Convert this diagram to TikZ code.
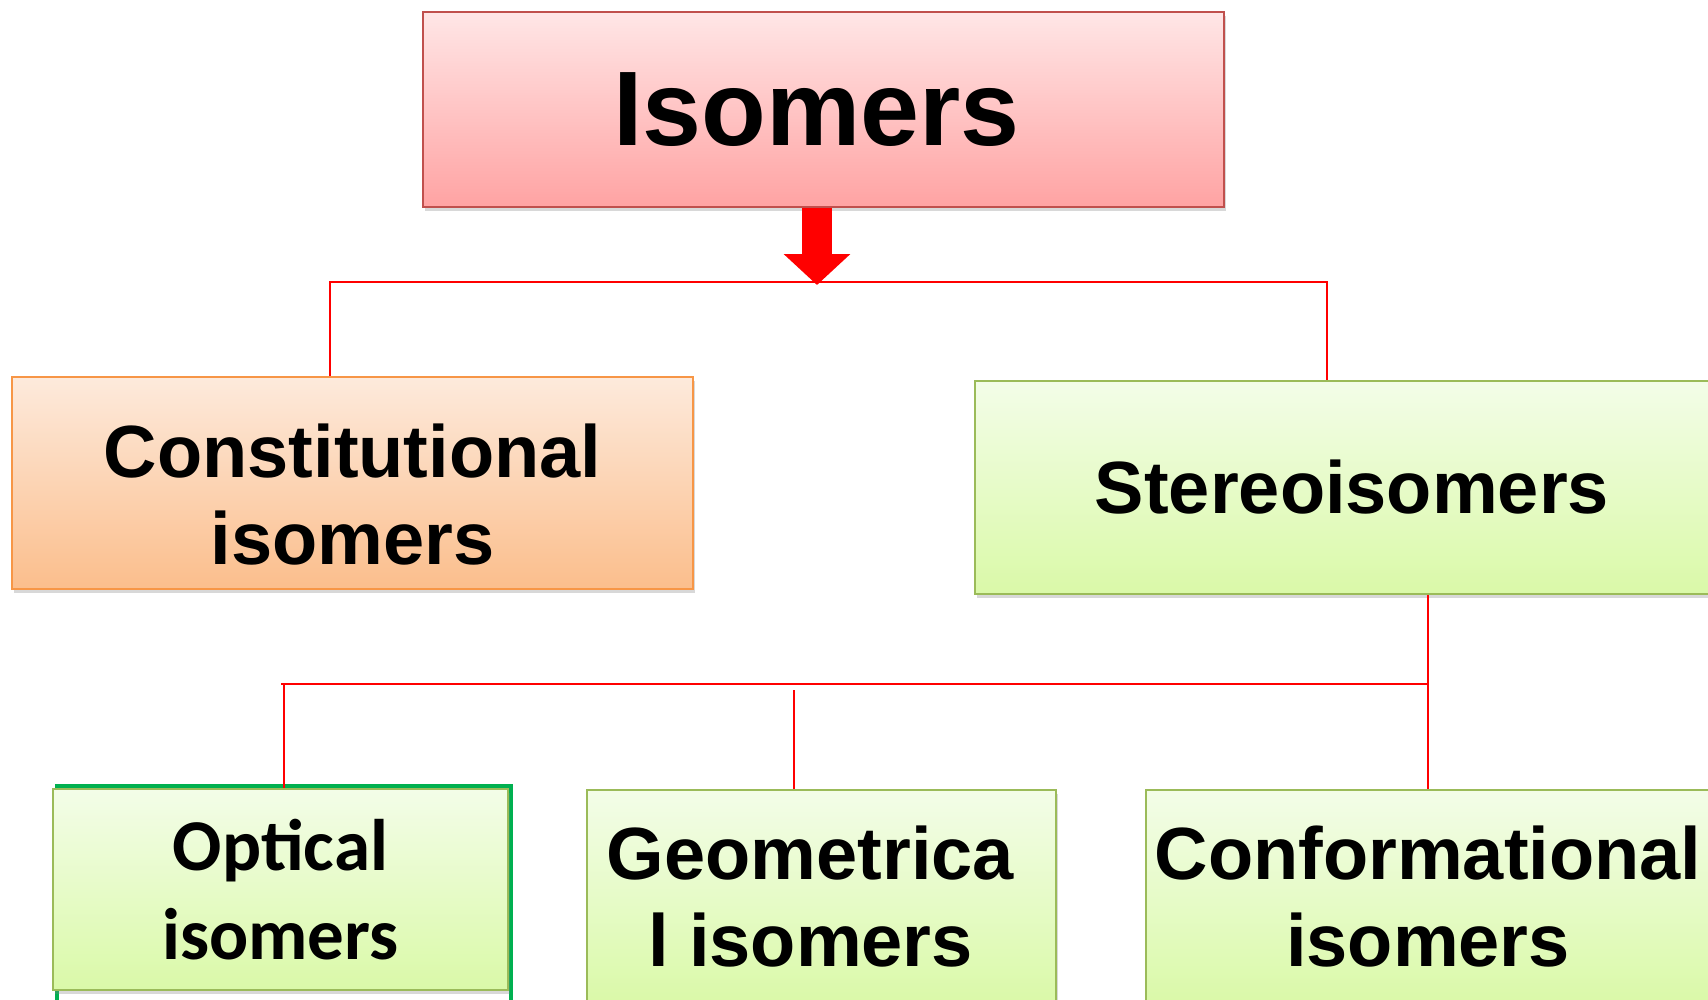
\documentclass[tikz,border=0pt]{standalone}
\usepackage{fontspec}
\setmainfont{Liberation Sans}
\newfontfamily\calibri{Carlito}
\usetikzlibrary{arrows.meta,shadows}

\definecolor{isotop}{HTML}{FFE6E6}
\definecolor{isobottom}{HTML}{FFA3A3}
\definecolor{isoline}{HTML}{C0504D}
\definecolor{consttop}{HTML}{FDEADC}
\definecolor{constbottom}{HTML}{FBBE8C}
\definecolor{constline}{HTML}{F79646}
\definecolor{stereotop}{HTML}{F3FDE8}
\definecolor{stereobottom}{HTML}{DAF9A8}
\definecolor{stereoline}{HTML}{9BBB59}
\definecolor{opticline}{HTML}{00B050}

\begin{document}
\begin{tikzpicture}[x=1pt, y=-1pt,
        box/.style={rectangle, line width=2pt, align=center, inner sep=0pt,
            font=\bfseries\fontsize{74}{87}\selectfont,
            drop shadow={shadow xshift=2pt, shadow yshift=-4pt, opacity=0.3}},
        isobox/.style={box, draw=isoline, top color=isotop, bottom color=isobottom},
        constbox/.style={box, draw=constline, top color=consttop, bottom color=constbottom},
        greenbox/.style={box, draw=stereoline, top color=stereotop, bottom color=stereobottom},
        link/.style={draw=red, line width=1.5pt},
        bigarrow/.style={red, line width=30pt, -{Triangle[width=65pt, length=31pt]}},
        ]
        \useasboundingbox (0,0) rectangle (1708,999);
        \fill[white] (0,0) rectangle (1708,999);
        \clip (0,0) rectangle (1708,999);

        \node (isomers) at (823.5,109.5) [isobox, minimum width=801pt, minimum height=195pt,
            font=\bfseries\fontsize{106}{120}\selectfont] {Isomers\rule{14pt}{0pt}};
        \node (const) at (352.5,483) [constbox, minimum width=681pt, minimum height=212pt]
            {\rule{0pt}{76pt}Constitutional\\isomers};
        \node (stereo) at (1352,487.5) [greenbox, minimum width=754pt, minimum height=213pt] {Stereoisomers};

        \draw[opticline, line width=4pt] (57,786) rectangle (511,1010);
        \node (optical) at (280.5,889.5) [greenbox, minimum width=455pt, minimum height=201pt,
            font=\calibri\bfseries\fontsize{73}{89}\selectfont] {Optical\\isomers};
        \node (geometrical) at (821.5,897) [greenbox, minimum width=469pt, minimum height=214pt]
            {Geometrica\rule{22pt}{0pt}\\l isomers\rule{22pt}{0pt}};
        \node (conformational) at (1428,897) [greenbox, minimum width=564pt, minimum height=214pt] {Conformational\\isomers};

        \coordinate (tip) at (817,285);
        \coordinate (busL) at (330,282);
        \coordinate (busR) at (1327,282);
        \coordinate (lowL) at (281,684);
        \coordinate (lowR) at (1428,684);
        \coordinate (optL) at (284,684);
        \coordinate (geoT) at (794,690);

        \draw[link] (const.north -| busL) -- (busL) -- (busR) -- (stereo.north -| busR);
        \draw[bigarrow] (isomers.south -| tip) -- (tip);

        \draw[link] (stereo.south -| lowR) -- (lowR) -- (lowL);
        \draw[link] (lowR) -- (conformational.north);
        \draw[link] (optL) -- (optical.north -| optL);
        \draw[link] (geoT) -- (geometrical.north -| geoT);
\end{tikzpicture}
\end{document}
